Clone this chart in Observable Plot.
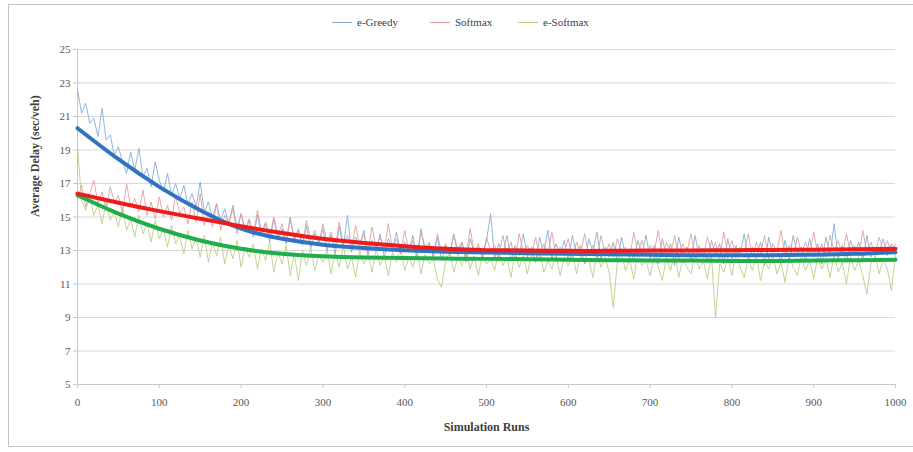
<!DOCTYPE html>
<html>
<head>
<meta charset="utf-8">
<script src="https://cdn.jsdelivr.net/npm/d3@7"></script>
<script src="https://cdn.jsdelivr.net/npm/@observablehq/plot@0.6"></script>
<style>
  html, body { margin: 0; padding: 0; background: #fff; }
  #wrap { position: relative; width: 913px; height: 452px; overflow: hidden; font-family: "Liberation Serif", "Times New Roman", Times, "DejaVu Serif", serif; }
  #frame { position: absolute; left: 8px; top: 4px; width: 912px; height: 443px; border: 1px solid #c4c4c4; box-sizing: border-box; }
  #legend { position: absolute; top: 14px; left: 0; width: 913px; height: 16px; font-size: 11px; color: #404040; }
  .sw { position: absolute; top: 8px; width: 20px; height: 0; border-top: 1px solid; }
  .lt { position: absolute; top: 0; line-height: 16px; white-space: nowrap; }
  #chart { position: absolute; left: 0; top: 0; }
  #chart svg text { font-family: "Liberation Serif", "Times New Roman", Times, "DejaVu Serif", serif; }
</style>
</head>
<body>
<div id="wrap">
  <div id="frame"></div>
  <div id="chart"></div>
  <div id="legend"></div>
</div>
<script>
// ---- data ----
const seriesNames = ["e-Greedy", "Softmax", "e-Softmax"];
const runs = d3.range(0, 1001, 5); // simulation run index (every 5th run)
const xTicks = [0, 100, 200, 300, 400, 500, 600, 700, 800, 900, 1000];
const yTicks = [5, 7, 9, 11, 13, 15, 17, 19, 21, 23, 25];

const greedyRaw = [
  22.6,21.2,21.8,20.6,20.9,19.8,21.5,19.6,19.9,18.7,
  19.2,18.3,17.6,18.9,17.8,19.1,17.4,17.9,16.8,18.3,
  17.2,16.5,17.6,16.3,17.0,16.1,16.9,15.7,16.4,15.6,
  17.1,15.3,15.9,14.9,15.8,14.8,15.5,14.6,15.7,14.3,
  15.2,14.1,14.8,13.8,15.1,13.9,14.6,13.5,14.9,13.7,
  14.3,13.4,15.0,13.6,14.2,13.3,14.5,13.1,14.0,13.5,
  14.3,13.0,13.9,12.8,14.4,13.2,15.1,12.9,13.8,13.3,
  14.2,12.7,13.6,13.0,14.0,12.6,13.7,13.1,14.1,12.8,
  13.5,12.9,13.9,12.5,14.3,12.9,13.4,12.6,13.8,12.4,
  13.3,12.8,14.0,12.7,13.5,12.3,13.7,12.9,13.2,12.6,
  13.6,15.2,12.5,13.4,12.8,13.9,12.4,13.3,12.7,14.0,
  12.6,13.2,12.3,13.8,12.8,14.2,12.5,13.4,12.7,13.6,
  12.4,13.9,12.8,13.3,12.2,13.7,12.9,14.1,12.5,13.2,
  12.6,13.5,12.3,13.8,12.7,13.1,12.4,13.6,12.8,13.9,
  12.5,13.3,12.2,13.7,12.6,13.4,12.1,13.8,12.7,13.2,
  12.4,13.9,12.6,13.1,12.3,13.6,12.8,13.4,12.2,13.7,
  12.5,13.3,12.7,14.0,12.4,13.2,12.6,13.5,12.1,13.8,
  12.7,13.1,12.3,13.6,12.5,13.9,12.8,13.2,12.4,13.7,
  12.6,13.4,12.2,13.8,12.7,14.6,12.5,13.3,12.3,13.6,
  12.8,13.5,12.4,13.9,12.6,13.2,12.9,13.7,12.7,13.4,
  12.9
];
const softmaxRaw = [
  16.0,16.9,15.6,16.4,17.2,15.8,16.5,15.4,16.8,15.9,
  16.3,15.2,17.0,15.6,16.1,15.3,16.6,15.1,15.9,14.9,
  16.2,15.0,15.7,14.8,16.3,15.2,15.6,14.6,15.9,14.7,
  16.4,14.5,15.3,14.4,15.8,14.2,15.1,14.6,15.5,14.0,
  15.2,14.3,14.9,13.9,15.4,14.1,14.7,13.8,15.0,13.9,
  14.6,13.5,14.9,13.7,14.3,13.4,14.8,13.6,14.2,13.3,
  14.6,13.5,14.1,13.2,14.7,13.4,13.9,13.1,14.5,13.3,
  14.0,12.9,14.4,13.2,13.8,13.0,14.6,13.1,13.7,12.8,
  14.2,13.0,13.6,12.7,14.1,13.2,13.5,12.6,14.0,12.9,
  13.4,12.7,13.9,13.1,13.5,12.6,14.3,12.9,13.4,12.5,
  13.8,13.0,13.3,12.6,13.9,12.8,13.5,12.4,14.0,12.9,
  13.3,12.7,13.8,12.5,13.4,12.8,14.1,12.6,13.2,12.9,
  13.7,12.4,13.5,12.8,14.0,12.7,13.3,12.5,13.9,12.8,
  13.4,12.6,13.7,12.9,13.2,12.5,14.1,12.8,13.6,12.7,
  13.3,12.9,14.2,12.6,13.5,12.8,13.9,12.5,13.4,12.9,
  14.0,12.7,13.3,12.6,13.8,12.9,13.5,12.4,14.1,12.8,
  13.6,12.7,13.2,12.9,14.0,12.6,13.5,12.8,13.9,12.5,
  13.4,12.9,14.2,12.7,13.3,12.6,13.8,12.9,13.5,12.7,
  14.1,12.8,13.4,12.6,13.9,13.0,13.6,12.7,14.0,12.8,
  13.3,12.6,14.2,12.9,13.5,12.7,13.8,13.0,13.6,12.8,
  13.4
];
const eSoftmaxRaw = [
  19.2,16.0,15.4,16.3,15.1,15.7,14.6,15.9,14.8,15.3,
  14.4,15.6,14.2,14.9,13.8,15.1,14.0,14.6,13.5,14.8,
  13.7,14.3,13.2,14.5,13.4,13.9,12.8,14.2,13.1,13.7,
  12.6,13.9,12.3,13.5,12.7,13.8,12.2,13.3,12.5,13.6,
  12.0,13.2,12.6,13.4,11.9,13.1,12.4,13.5,11.7,12.9,
  12.2,13.3,11.5,12.8,11.2,13.0,12.1,13.2,11.8,12.7,
  12.3,13.1,11.6,12.9,12.0,13.3,11.9,12.6,11.4,13.0,
  12.2,12.8,11.7,13.1,12.1,12.7,11.5,12.9,12.3,13.2,
  11.8,12.6,12.0,13.0,11.6,12.8,12.2,12.5,11.3,10.8,
  12.4,12.9,11.7,12.6,12.1,13.1,11.9,12.7,11.5,12.8,
  12.2,12.5,11.8,13.0,12.1,12.6,11.4,12.9,12.0,12.7,
  11.6,12.8,12.3,13.1,11.7,12.4,11.9,12.8,11.5,12.6,
  12.1,13.0,11.6,12.7,12.2,12.5,11.4,12.9,12.0,12.6,
  11.7,9.6,12.3,12.8,11.8,12.5,11.3,12.9,12.1,12.4,
  11.5,12.7,12.0,11.2,12.6,11.8,12.9,11.4,12.5,12.0,
  11.6,12.8,11.9,12.4,11.3,12.7,9.0,12.2,11.7,12.6,
  11.5,12.9,12.0,11.4,12.5,11.8,12.7,11.2,12.4,11.9,
  12.8,11.6,12.3,11.1,12.6,12.0,11.5,12.7,11.8,12.4,
  11.3,12.6,11.9,12.5,11.4,12.8,11.7,12.3,11.0,12.6,
  11.8,12.4,11.5,10.4,12.2,12.7,11.6,12.5,11.9,10.6,
  12.8
];

// trend lines (read every 50 runs)
const trendRuns = [0,50,100,150,200,250,300,350,400,450,500,550,600,650,700,750,800,850,900,950,1000];
const greedyTrend  = [20.3,18.45,16.8,15.4,14.3,13.7,13.35,13.15,13.02,12.93,12.88,12.84,12.8,12.77,12.74,12.72,12.72,12.72,12.75,12.8,12.9];
const softmaxTrend = [16.4,15.85,15.35,14.9,14.45,14.05,13.7,13.45,13.25,13.1,13.02,13.0,12.98,12.98,13.0,13.0,13.02,13.03,13.05,13.07,13.1];
const eSoftmaxTrend= [16.3,15.2,14.3,13.6,13.1,12.8,12.65,12.58,12.55,12.52,12.5,12.48,12.45,12.42,12.4,12.4,12.38,12.38,12.4,12.42,12.45];

const rawColors   = ["#7fa9d8", "#e29a9f", "#b8cb80"];
const trendColors = ["#2e74c0", "#ee1b1b", "#1fae49"];

// ---- build tables ----
const raws = [greedyRaw, softmaxRaw, eSoftmaxRaw];
const trends = [greedyTrend, softmaxTrend, eSoftmaxTrend];
const rawData = [];
raws.forEach((arr, s) => {
  const n = Math.min(arr.length, runs.length);
  for (let i = 0; i < n; i++) rawData.push({series: seriesNames[s], run: runs[i], v: arr[i]});
});
const trendData = [];
trends.forEach((arr, s) => {
  arr.forEach((v, i) => trendData.push({series: seriesNames[s], run: trendRuns[i], v}));
});

const serif = '"Liberation Serif", "Times New Roman", Times, "DejaVu Serif", serif';
const chart = Plot.plot({
  width: 913,
  height: 452,
  marginLeft: 77,
  marginRight: 18,
  marginTop: 49,
  marginBottom: 68,
  x: {domain: [0, 1000], label: null},
  y: {domain: [5, 25], label: null},
  color: {domain: seriesNames, range: rawColors},
  style: {fontFamily: serif, fontSize: "11px", color: "#595959", background: "transparent", overflow: "visible"},
  marks: [
    Plot.gridY(yTicks, {stroke: "#d9d9d9", strokeOpacity: 1}),
    Plot.ruleY([5], {stroke: "#c8c8c8"}),
    Plot.ruleX([0], {stroke: "#c8c8c8"}),
    Plot.axisX({ticks: xTicks, tickSize: 4, tickPadding: 10, stroke: "#c8c8c8", label: null, tickFormat: d => String(d)}),
    Plot.axisY({ticks: yTicks, tickSize: 4, tickPadding: 3, stroke: "#c8c8c8", label: null}),
    Plot.lineY(rawData, {x: "run", y: "v", z: "series", stroke: "series", strokeWidth: 1, strokeOpacity: 0.85}),
    Plot.line(trendData.filter(d => d.series === "e-Softmax"), {x: "run", y: "v", stroke: trendColors[2], strokeWidth: 4, curve: "natural"}),
    Plot.line(trendData.filter(d => d.series === "e-Greedy"), {x: "run", y: "v", stroke: trendColors[0], strokeWidth: 4, curve: "natural"}),
    Plot.line(trendData.filter(d => d.series === "Softmax"), {x: "run", y: "v", stroke: trendColors[1], strokeWidth: 4, curve: "natural"}),
    Plot.text(["Simulation Runs"], {frameAnchor: "bottom", dy: 46, fontWeight: "bold", fontSize: 12, fill: "#404040"}),
    Plot.text(["Average Delay (sec/veh)"], {frameAnchor: "left", dx: -42, rotate: -90, fontWeight: "bold", fontSize: 12, fill: "#404040"})
  ]
});
document.getElementById("chart").appendChild(chart);

// legend
const legend = document.getElementById("legend");
const legendPos = [{sw: 332, tx: 357}, {sw: 430, tx: 455}, {sw: 518, tx: 543}];
seriesNames.forEach((name, i) => {
  const sw = document.createElement("div");
  sw.className = "sw";
  sw.style.left = legendPos[i].sw + "px";
  sw.style.borderTopColor = rawColors[i];
  legend.appendChild(sw);
  const t = document.createElement("div");
  t.className = "lt";
  t.style.left = legendPos[i].tx + "px";
  t.textContent = name;
  legend.appendChild(t);
});
</script>
</body>
</html>
